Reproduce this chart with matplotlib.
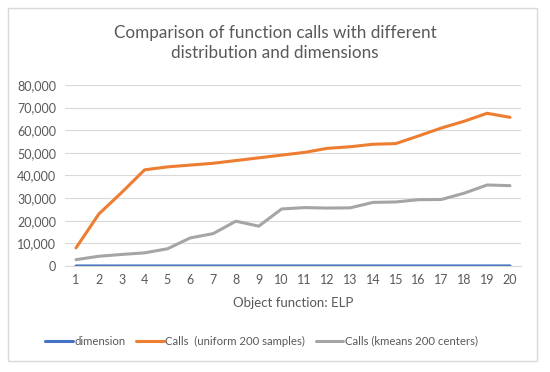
import matplotlib
matplotlib.use("Agg")
import matplotlib.pyplot as plt
from matplotlib.patches import Rectangle
from matplotlib.ticker import FuncFormatter

x = list(range(1, 21))
dimension = list(range(1, 21))
calls_uniform = [8000, 23000, 32500, 42500, 43800, 44600, 45400, 46600, 47800, 49000,
                 50200, 52000, 52700, 53800, 54100, 57500, 61000, 64000, 67500, 65700]
calls_kmeans = [2800, 4300, 5100, 5800, 7600, 12400, 14300, 19800, 17600, 25200,
                25800, 25600, 25700, 28100, 28300, 29300, 29400, 32200, 35800, 35500]
labels = ["dimension", "Calls  (uniform 200 samples)", "Calls (kmeans 200 centers)"]
colors = ["#4472C4", "#ED7D31", "#A5A5A5"]
title = "Comparison of function calls with different\ndistribution and dimensions"

plt.rcParams['font.family'] = ['Lato', 'DejaVu Sans']
txt = "#595959"

fig = plt.figure(figsize=(5.5, 3.72), dpi=100)
fig.patches.append(Rectangle((8/550, 11/372), (537-8)/550, 353/372,
                             transform=fig.transFigure, fill=False,
                             edgecolor="#D9D9D9", linewidth=1))
ax = fig.add_axes([0.1175, 0.285, 0.8305, 0.4865])
for ys, c, l in zip([dimension, calls_uniform, calls_kmeans], colors, labels):
    ax.plot(x, ys, color=c, linewidth=2.2, label=l, solid_capstyle='round')
ax.set_xlim(0.5, 20.5)
ax.set_ylim(0, 80000)
ax.set_yticks(range(0, 80001, 10000))
ax.yaxis.set_major_formatter(FuncFormatter(lambda v, p: f"{int(v):,}"))
ax.set_xticks(x)
ax.grid(axis='y', color="#D9D9D9", linewidth=0.8)
ax.set_axisbelow(True)
for s in ['top', 'right', 'left']:
    ax.spines[s].set_visible(False)
ax.spines['bottom'].set_color("#D9D9D9")
ax.tick_params(axis='both', length=0, labelsize=9, colors=txt, pad=6)
ax.set_xlabel("Object function: ELP", fontsize=9.5, color=txt, labelpad=8)
fig.text(0.5, 0.885, title, ha='center', va='center', fontsize=12.3, color=txt, linespacing=1.3)
fig.legend(loc='center', bbox_to_anchor=(0.476, 0.083), ncol=3, frameon=False,
           fontsize=8.2, labelcolor=txt, handlelength=2.4, columnspacing=0.95, handletextpad=0.15)
fig.savefig("out.png", dpi=100)
